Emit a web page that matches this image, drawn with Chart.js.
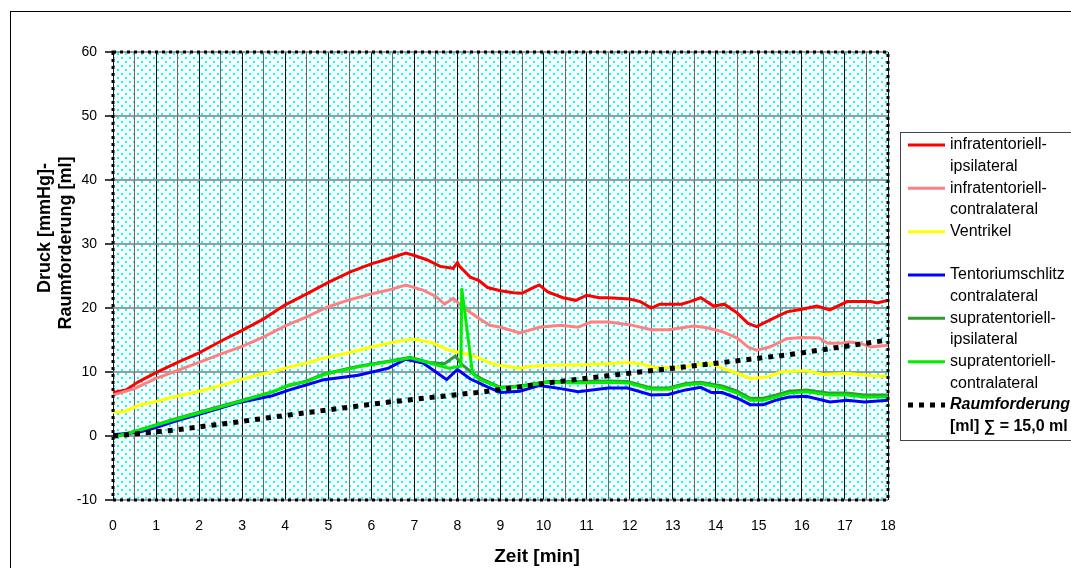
<!DOCTYPE html>
<html>
<head>
<meta charset="utf-8">
<script src="https://cdn.jsdelivr.net/npm/chart.js@4"></script>
<style>
  html, body { margin: 0; padding: 0; background: #fff; }
  #wrap { width: 1071px; height: 568px; position: relative; }
</style>
</head>
<body>
<div id="wrap"><canvas id="c" width="1071" height="568"></canvas></div>
<script>
// Zeit [min] / Druck [mmHg] pairs per Messstelle
const infraIpsi = [
  [0,6.8],[0.3,7.2],[0.6,8.5],[1.0,9.9],[1.5,11.5],[2.0,13.0],[2.5,14.8],[3.0,16.5],[3.5,18.3],
  [4.0,20.5],[4.5,22.2],[5.0,24.0],[5.5,25.6],[6.0,26.9],[6.4,27.7],[6.8,28.6],[7.0,28.2],[7.3,27.5],
  [7.6,26.5],[7.9,26.2],[8.0,27.1],[8.05,26.5],[8.3,24.8],[8.5,24.3],[8.7,23.2],[9.0,22.7],[9.3,22.4],
  [9.5,22.3],[9.7,23.0],[9.9,23.6],[10.1,22.5],[10.45,21.6],[10.75,21.2],[11.0,22.0],[11.3,21.6],
  [11.5,21.6],[12.0,21.4],[12.25,21.0],[12.5,20.0],[12.7,20.6],[13.2,20.6],[13.4,21.0],[13.65,21.6],
  [13.95,20.3],[14.2,20.6],[14.5,19.2],[14.75,17.6],[14.95,17.1],[15.25,18.1],[15.65,19.4],[16.0,19.8],
  [16.35,20.3],[16.65,19.7],[17.05,21.0],[17.6,21.0],[17.75,20.8],[18.0,21.2]
];
const infraContra = [
  [0,6.4],[0.5,7.4],[1.0,9.0],[1.4,10.0],[2.0,11.5],[2.5,12.8],[3.0,14.0],[3.5,15.5],[4.0,17.2],
  [4.5,18.6],[5.0,20.2],[5.5,21.3],[6.0,22.2],[6.4,22.8],[6.8,23.6],[7.2,22.8],[7.5,21.8],[7.7,20.6],
  [7.9,21.5],[8.15,20.0],[8.45,18.6],[8.75,17.3],[9.0,17.0],[9.45,16.1],[9.9,17.0],[10.4,17.3],
  [10.8,17.0],[11.1,17.8],[11.5,17.8],[12.0,17.4],[12.5,16.6],[12.9,16.6],[13.5,17.2],[13.8,16.9],
  [14.15,16.3],[14.5,15.3],[14.75,13.9],[14.95,13.4],[15.25,13.9],[15.65,15.2],[16.0,15.4],[16.4,15.3],
  [16.6,14.5],[16.9,14.5],[17.1,14.7],[17.35,14.5],[17.6,13.9],[18.0,14.2]
];
const ventrikel = [
  [0,3.7],[0.25,3.8],[0.6,4.8],[1.0,5.4],[1.4,6.1],[2.0,7.0],[2.5,7.9],[2.9,8.7],[3.4,9.6],[3.7,10.0],
  [4.1,10.8],[4.5,11.4],[4.9,12.2],[5.4,12.9],[5.7,13.4],[6.0,13.9],[6.4,14.5],[6.8,15.0],[7.0,15.1],
  [7.4,14.6],[7.8,13.4],[8.3,12.7],[8.5,12.2],[8.75,11.4],[9.0,11.0],[9.45,10.6],[9.7,10.9],[10.3,11.1],
  [10.8,11.1],[11.5,11.3],[11.95,11.5],[12.25,11.3],[12.55,10.7],[13.2,10.7],[13.6,11.2],[13.9,11.3],
  [14.15,10.6],[14.5,9.8],[14.8,9.0],[15.2,9.2],[15.5,10.0],[16.1,10.2],[16.5,9.6],[17.05,9.8],
  [17.6,9.4],[18.0,9.3]
];
const tentoriumContra = [
  [0,0.2],[0.6,0.6],[1.0,1.3],[1.4,2.2],[2.1,3.6],[2.9,5.2],[3.7,6.3],[4.1,7.2],[4.5,8.0],[4.9,8.8],
  [5.7,9.5],[6.4,10.6],[6.8,12.0],[7.2,11.4],[7.5,10.0],[7.75,8.8],[8.0,10.4],[8.3,8.9],[8.5,8.3],
  [8.75,7.5],[9.0,6.8],[9.45,7.0],[9.9,7.9],[10.1,7.7],[10.4,7.4],[10.8,6.9],[11.5,7.5],[11.95,7.5],
  [12.5,6.4],[12.9,6.5],[13.3,7.2],[13.65,7.6],[13.9,6.8],[14.15,6.8],[14.5,5.9],[14.8,4.9],[15.1,4.9],
  [15.4,5.6],[15.7,6.1],[16.1,6.2],[16.65,5.3],[17.05,5.6],[17.45,5.3],[18.0,5.6]
];
const supraIpsi = [
  [0,-0.2],[0.6,0.9],[1.4,2.6],[2.1,3.9],[2.9,5.4],[3.7,6.9],[4.1,7.9],[4.5,8.6],[4.9,9.7],[5.7,10.9],
  [6.4,11.7],[6.9,12.3],[7.35,11.5],[7.7,11.3],[7.95,12.5],[8.1,11.2],[8.4,9.6],[8.6,8.8],[9.0,7.6],
  [9.45,7.8],[10.1,8.5],[10.8,8.5],[11.5,8.6],[11.95,8.5],[12.5,7.5],[12.9,7.5],[13.3,8.2],[13.65,8.4],
  [14.15,7.8],[14.5,7.0],[14.8,5.9],[15.1,5.9],[15.4,6.4],[15.7,7.0],[16.1,7.2],[16.65,6.7],[17.05,6.7],
  [17.45,6.4],[18.0,6.4]
];
const supraContra = [
  [0,-0.2],[0.6,0.9],[1.4,2.5],[2.1,3.8],[2.9,5.3],[3.7,6.9],[4.1,8.0],[4.5,8.5],[4.9,9.6],[5.7,10.8],
  [6.4,11.6],[6.9,12.2],[7.35,11.4],[7.8,10.6],[8.08,10.9],[8.1,23.1],[8.35,9.8],[8.52,8.8],[9.0,7.5],
  [9.45,7.7],[10.1,8.4],[10.8,8.3],[11.5,8.4],[11.95,8.3],[12.5,7.3],[12.9,7.3],[13.3,8.0],[13.65,8.2],
  [14.15,7.5],[14.5,6.7],[14.8,5.6],[15.1,5.6],[15.4,6.1],[15.7,6.7],[16.1,6.9],[16.65,6.4],[17.05,6.4],
  [17.45,6.1],[18.0,6.1]
];
// Raumforderung [ml], Summe 15,0 ml nach 18 min
const raumforderung = [
  [0,0.0],[1.4,0.9],[2.9,2.2],[4.1,3.3],[6.4,5.3],[8.6,6.9],[10.1,8.3],[11.6,9.5],[13.4,10.9],
  [15.7,12.7],[16.9,13.9],[18.0,15.0]
];

const xTicksMajor = [0,1,2,3,4,5,6,7,8,9,10,11,12,13,14,15,16,17,18];
const yTicks = [-10,0,10,20,30,40,50,60];

const FONT = 'Arial, "Liberation Sans", sans-serif';

function pts(arr) { return arr.map(p => ({ x: p[0], y: p[1] })); }

const legendItems = [
  { ds: 0, lines: [['infratentoriell-', ''], ['ipsilateral', '']] },
  { ds: 1, lines: [['infratentoriell-', ''], ['contralateral', '']] },
  { ds: 2, lines: [['Ventrikel', '']] },
  { ds: -1, lines: [] },
  { ds: 3, lines: [['Tentoriumschlitz', ''], ['contralateral', '']] },
  { ds: 4, lines: [['supratentoriell-', ''], ['ipsilateral', '']] },
  { ds: 5, lines: [['supratentoriell-', ''], ['contralateral', '']] },
  { ds: 6, lines: [['Raumforderung', 'italic bold '], ['[ml] \u2211 = 15,0 ml', 'bold ']] }
];

// dotted cyan fill of the plot area
function makePattern(ctx) {
  const t = document.createElement('canvas');
  t.width = 8; t.height = 8;
  const g = t.getContext('2d');
  g.fillStyle = '#ffffff'; g.fillRect(0, 0, 8, 8);
  g.fillStyle = '#e2ffff'; g.fillRect(4, 0, 3, 3);
  g.fillStyle = '#00ffff'; g.fillRect(1, 1, 2, 2); g.fillRect(5, 5, 2, 2);
  return ctx.createPattern(t, 'repeat');
}

const framePlugin = {
  id: 'frame',
  beforeDraw(chart) {
    const ctx = chart.ctx, a = chart.chartArea;
    ctx.save();
    ctx.fillStyle = '#fff';
    ctx.fillRect(0, 0, chart.width, chart.height);
    ctx.strokeStyle = '#000'; ctx.lineWidth = 1;
    ctx.strokeRect(10.5, 11.5, 1200, 700);
    ctx.fillStyle = makePattern(ctx);
    ctx.fillRect(a.left, a.top, a.right - a.left, a.bottom - a.top);
    ctx.restore();
  },
  afterDatasetsDraw(chart) {
    const ctx = chart.ctx, a = chart.chartArea;
    ctx.save();
    // dotted plot border
    ctx.strokeStyle = '#000'; ctx.lineWidth = 3;
    ctx.setLineDash([3, 4]);
    ctx.strokeRect(a.left, a.top, a.right - a.left, a.bottom - a.top);
    ctx.setLineDash([]);
    // axis titles
    ctx.fillStyle = '#000';
    ctx.textAlign = 'center'; ctx.textBaseline = 'middle';
    ctx.font = 'bold 19px ' + FONT;
    ctx.fillText('Zeit [min]', 537, 557);
    ctx.font = 'bold 18px ' + FONT;
    ctx.save(); ctx.translate(45, 228); ctx.rotate(-Math.PI / 2);
    ctx.fillText('Druck [mmHg]-', 0, 0); ctx.restore();
    ctx.save(); ctx.translate(66, 243); ctx.rotate(-Math.PI / 2);
    ctx.fillText('Raumforderung [ml]', 0, 0); ctx.restore();
    // legend
    ctx.fillStyle = '#fff';
    ctx.fillRect(900, 132, 300, 308);
    ctx.strokeStyle = '#444'; ctx.lineWidth = 1;
    ctx.strokeRect(900.5, 132.5, 300, 308);
    const rowH = 21.67;
    let y = 145;
    ctx.textAlign = 'left'; ctx.textBaseline = 'middle';
    legendItems.forEach(item => {
      if (item.ds < 0) { y += rowH; return; }
      const d = chart.data.datasets[item.ds];
      ctx.strokeStyle = d.borderColor;
      ctx.lineWidth = d.borderWidth;
      ctx.setLineDash(d.borderDash || []);
      ctx.beginPath(); ctx.moveTo(908, y); ctx.lineTo(945, y); ctx.stroke();
      ctx.setLineDash([]);
      ctx.fillStyle = '#000';
      item.lines.forEach((ln, i) => {
        ctx.font = ln[1] + '16px ' + FONT;
        ctx.fillText(ln[0], 950, y + i * rowH);
      });
      y += rowH * Math.max(item.lines.length, 1);
    });
    ctx.restore();
  }
};

const chart = new Chart(document.getElementById('c').getContext('2d'), {
  type: 'line',
  data: {
    datasets: [
      { label: 'infratentoriell-ipsilateral', data: pts(infraIpsi), borderColor: '#ff0000', borderWidth: 3, order: 6 },
      { label: 'infratentoriell-contralateral', data: pts(infraContra), borderColor: '#ff8080', borderWidth: 3, order: 5 },
      { label: 'Ventrikel', data: pts(ventrikel), borderColor: '#ffff00', borderWidth: 3, order: 4 },
      { label: 'Tentoriumschlitz contralateral', data: pts(tentoriumContra), borderColor: '#0000ff', borderWidth: 3, order: 3 },
      { label: 'supratentoriell-ipsilateral', data: pts(supraIpsi), borderColor: '#339933', borderWidth: 3, order: 2 },
      { label: 'supratentoriell-contralateral', data: pts(supraContra), borderColor: '#00ee00', borderWidth: 3, order: 1 },
      { label: 'Raumforderung [ml]', data: pts(raumforderung), borderColor: '#000000', borderWidth: 5, borderDash: [5, 6], order: 0 }
    ]
  },
  options: {
    responsive: false,
    animation: false,
    devicePixelRatio: 1,
    layout: { padding: { left: 0, top: 52, right: 183, bottom: 0 } },
    elements: { point: { radius: 0 }, line: { tension: 0, fill: false, borderCapStyle: 'butt' } },
    plugins: { legend: { display: false }, tooltip: { enabled: false } },
    scales: {
      x: {
        type: 'linear', min: 0, max: 18,
        afterFit(s) { s.height = 68; },
        border: { display: false },
        grid: {
          drawTicks: false,
          lineWidth: 1,
          color: c => (Number.isInteger(c.tick && c.tick.value) ? '#111' : '#666')
        },
        afterBuildTicks(s) {
          const t = [];
          for (let i = 0; i <= 36; i++) t.push({ value: i / 2 });
          s.ticks = t;
        },
        ticks: {
          autoSkip: false, maxRotation: 0, padding: 18, color: '#000',
          font: { family: FONT, size: 14 },
          callback: v => (xTicksMajor.includes(v) ? String(v) : '')
        }
      },
      y: {
        min: -10, max: 60,
        afterFit(s) { s.width = 113; },
        border: { display: false },
        grid: { color: 'rgba(130,130,130,0.8)', lineWidth: 2, tickLength: 8, tickColor: '#000', tickWidth: 1.5 },
        afterBuildTicks(s) { s.ticks = yTicks.map(v => ({ value: v })); },
        ticks: { padding: 8, color: '#000', font: { family: FONT, size: 14 } }
      }
    }
  },
  plugins: [framePlugin]
});
</script>
</body>
</html>
